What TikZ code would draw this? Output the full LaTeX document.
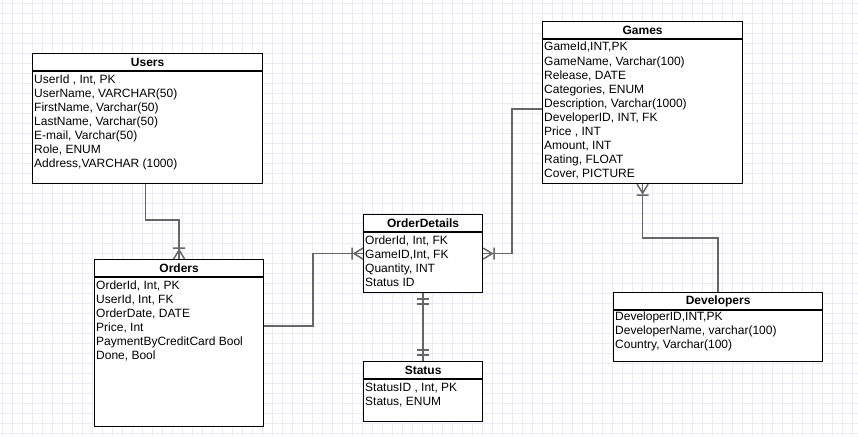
\documentclass[tikz,border=0pt]{standalone}
\usepackage{fontspec}
\setmainfont{Liberation Sans}
\definecolor{gridcol}{RGB}{234,234,248}
\definecolor{relcol}{RGB}{102,102,102}

% crow's foot (one or many) and double bar (one and only one)
\pgfdeclarearrow{
  name = crowfoot,
  setup code = {
    \pgfarrowssettipend{0pt}
    \pgfarrowssetlineend{0pt}
    \pgfarrowssetbackend{-12pt}
    \pgfarrowssetvisualbackend{-12pt}
  },
  drawing code = {
    \pgfsetdash{}{0pt}
    \pgfpathmoveto{\pgfpoint{-9pt}{0pt}}
    \pgfpathlineto{\pgfpoint{0pt}{5.5pt}}
    \pgfpathmoveto{\pgfpoint{-9pt}{0pt}}
    \pgfpathlineto{\pgfpoint{0pt}{-5.5pt}}
    \pgfpathmoveto{\pgfpoint{-11pt}{6pt}}
    \pgfpathlineto{\pgfpoint{-11pt}{-6pt}}
    \pgfusepathqstroke
  }
}
\pgfdeclarearrow{
  name = onebars,
  setup code = {
    \pgfarrowssettipend{0pt}
    \pgfarrowssetlineend{0pt}
    \pgfarrowssetbackend{-12pt}
    \pgfarrowssetvisualbackend{-12pt}
  },
  drawing code = {
    \pgfsetdash{}{0pt}
    \pgfpathmoveto{\pgfpoint{-6pt}{6pt}}
    \pgfpathlineto{\pgfpoint{-6pt}{-6pt}}
    \pgfpathmoveto{\pgfpoint{-11pt}{6pt}}
    \pgfpathlineto{\pgfpoint{-11pt}{-6pt}}
    \pgfusepathqstroke
  }
}

\begin{document}
\begin{tikzpicture}
  [x=1pt,y=-1pt,
   entity/.style={draw=black,line width=1.2pt,fill=white,anchor=north west,inner sep=0pt},
   title/.style={font=\bfseries\fontsize{12}{14}\selectfont,inner sep=0pt},
   field/.style={font=\fontsize{12}{14}\selectfont,inner sep=0pt,anchor=west,text height=9pt,text depth=3pt},
   rel/.style={draw=relcol,line width=1.5pt}]
  \useasboundingbox[fill=white] (0,0) rectangle (858,436);

  % background grid
  \foreach \gx in {2.7,12.7,...,858}
    \draw[gridcol,line width=0.7pt] (\gx,0) -- (\gx,436);
  \foreach \gy in {3.5,13.5,...,436}
    \draw[gridcol,line width=0.7pt] (0,\gy) -- (858,\gy);

  % Users
  \node[entity,minimum width=230pt,minimum height=130pt] (users) at (32,53) {};
  \draw[line width=1.2pt] ([yshift=-18pt]users.north west) -- ([yshift=-18pt]users.north east);
  \node[title] (users-t) at ([yshift=-9pt]users.north) {Users};
  \foreach \f [count=\i] in {{UserId , Int, PK},{UserName, VARCHAR(50)},{FirstName, Varchar(50)},
      {LastName, Varchar(50)},{E-mail, Varchar(50)},{Role, ENUM},{Address,VARCHAR (1000)}}
    \node[field] (users-\i) at ([xshift=2pt,yshift=-13-14*\i]users.north west) {\f};

  % Orders
  \node[entity,minimum width=169pt,minimum height=167pt] (orders) at (94,259) {};
  \draw[line width=1.2pt] ([yshift=-18pt]orders.north west) -- ([yshift=-18pt]orders.north east);
  \node[title] (orders-t) at ([yshift=-9pt]orders.north) {Orders};
  \foreach \f [count=\i] in {{OrderId, Int, PK},{UserId, Int, FK},{OrderDate, DATE},
      {Price, Int},{PaymentByCreditCard Bool},{Done, Bool}}
    \node[field] (orders-\i) at ([xshift=2pt,yshift=-13-14*\i]orders.north west) {\f};

  % OrderDetails
  \node[entity,minimum width=119pt,minimum height=78pt] (odetails) at (363,214) {};
  \draw[line width=1.2pt] ([yshift=-18pt]odetails.north west) -- ([yshift=-18pt]odetails.north east);
  \node[title] (odetails-t) at ([yshift=-9pt]odetails.north) {OrderDetails};
  \foreach \f [count=\i] in {{OrderId, Int, FK},{GameID,Int, FK},{Quantity, INT},{Status ID}}
    \node[field] (odetails-\i) at ([xshift=2pt,yshift=-13-14*\i]odetails.north west) {\f};

  % Status
  \node[entity,minimum width=119pt,minimum height=60pt] (status) at (363,361) {};
  \draw[line width=1.2pt] ([yshift=-18pt]status.north west) -- ([yshift=-18pt]status.north east);
  \node[title] (status-t) at ([yshift=-9pt]status.north) {Status};
  \foreach \f [count=\i] in {{StatusID , Int, PK},{Status, ENUM}}
    \node[field] (status-\i) at ([xshift=2pt,yshift=-13-14*\i]status.north west) {\f};

  % Games
  \node[entity,minimum width=200pt,minimum height=162pt] (games) at (542,21) {};
  \draw[line width=1.2pt] ([yshift=-18pt]games.north west) -- ([yshift=-18pt]games.north east);
  \node[title] (games-t) at ([yshift=-9pt]games.north) {Games};
  \foreach \f [count=\i] in {{GameId,INT,PK},{GameName, Varchar(100)},{Release, DATE},
      {Categories, ENUM},{Description, Varchar(1000)},{DeveloperID, INT, FK},{Price , INT},
      {Amount, INT},{Rating, FLOAT},{Cover, PICTURE}}
    \node[field] (games-\i) at ([xshift=2pt,yshift=-13-14*\i]games.north west) {\f};

  % Developers
  \node[entity,minimum width=209pt,minimum height=69pt] (devs) at (613,292) {};
  \draw[line width=1.2pt] ([yshift=-18pt]devs.north west) -- ([yshift=-18pt]devs.north east);
  \node[title] (devs-t) at ([yshift=-9pt]devs.north) {Developers};
  \foreach \f [count=\i] in {{DeveloperID,INT,PK},{DeveloperName, varchar(100)},{Country, Varchar(100)}}
    \node[field] (devs-\i) at ([xshift=2pt,yshift=-11-14*\i]devs.north west) {\f};

  % relations
  \draw[rel,-crowfoot] ([xshift=-2pt]users.south) -- ++(0,36) -| (orders.north);
  \draw[rel,-crowfoot] ([yshift=-67pt]orders.north east) -- ++(49,0) |- (odetails.west);
  \draw[rel,-crowfoot] ([yshift=-88pt]games.north west) -- ++(-30,0) |- (odetails.east);
  \draw[rel,onebars-onebars] (odetails.south) -- (status.north);
  \draw[rel,-crowfoot] (devs.north) -- ++(0,-54) -| (games.south);
\end{tikzpicture}
\end{document}
